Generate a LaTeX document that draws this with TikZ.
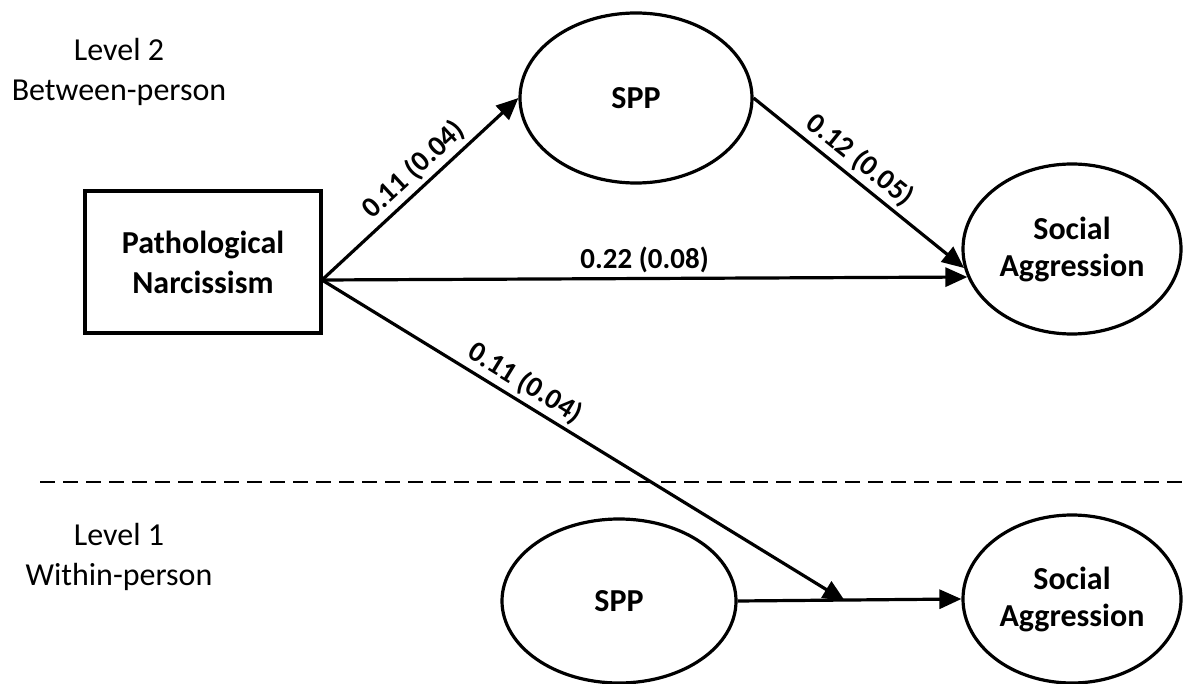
\documentclass[tikz,border=0pt]{standalone}
\usepackage{fontspec}
\setmainfont{Carlito}
\usetikzlibrary{arrows.meta,shapes.geometric}
\begin{document}
\begin{tikzpicture}[x=1pt,y=-1pt,
  lvl/.style={align=center, font=\fontsize{32}{40}\selectfont},
  var/.style={draw, line width=3.2pt, ellipse, inner sep=0pt, align=center, font=\fontsize{32}{37}\selectfont\bfseries},
  obs/.style={draw, line width=3.2pt, rectangle, inner sep=0pt, align=center, font=\fontsize{32}{40}\selectfont\bfseries},
  pth/.style={line width=3.2pt, -{Triangle[length=22pt,width=19pt]}},
  coef/.style={font=\fontsize{29}{30}\selectfont\bfseries, sloped, above, inner sep=4pt},
  divider/.style={line width=2.5pt, dash pattern=on 15pt off 8pt}
]
\useasboundingbox (0,0) rectangle (1183,684);

\node[lvl] (l2) at (119,72) {Level 2\\Between-person};
\node[lvl] (l1) at (119,557) {Level 1\\Within-person};

\node[obs, minimum width=236pt, minimum height=142pt] (pn) at (203,262) {Pathological\\Narcissism};
\node[var, minimum width=232pt, minimum height=170pt] (spp2) at (636,98) {SPP};
\node[var, minimum width=218pt, minimum height=170pt] (sa2) at (1072,249) {Social\\Aggression};
\node[var, minimum width=234pt, minimum height=164pt] (spp1) at (619,601) {SPP};
\node[var, minimum width=218pt, minimum height=168pt] (sa1) at (1072,599) {Social\\Aggression};

\coordinate (src) at (322,280);
\coordinate (mod) at (845,601);
\coordinate (dl) at (40,482);
\coordinate (dr) at (1183,482);

\draw[divider] (dl) -- (dr);

\draw[pth] (src) -- node[coef, pos=0.53] {0.11 (0.04)} (spp2.west);
\draw[pth] (src) -- node[coef, pos=0.5] {0.22 (0.08)} (sa2.195);
\draw[pth] (spp2.east) -- node[coef, pos=0.45] {0.12 (0.05)} (sa2.190);
\draw[pth] (src) -- node[coef, pos=0.37] {0.11 (0.04)} (mod);
\draw[pth] (spp1.east) -- (sa1.west);
\end{tikzpicture}
\end{document}
